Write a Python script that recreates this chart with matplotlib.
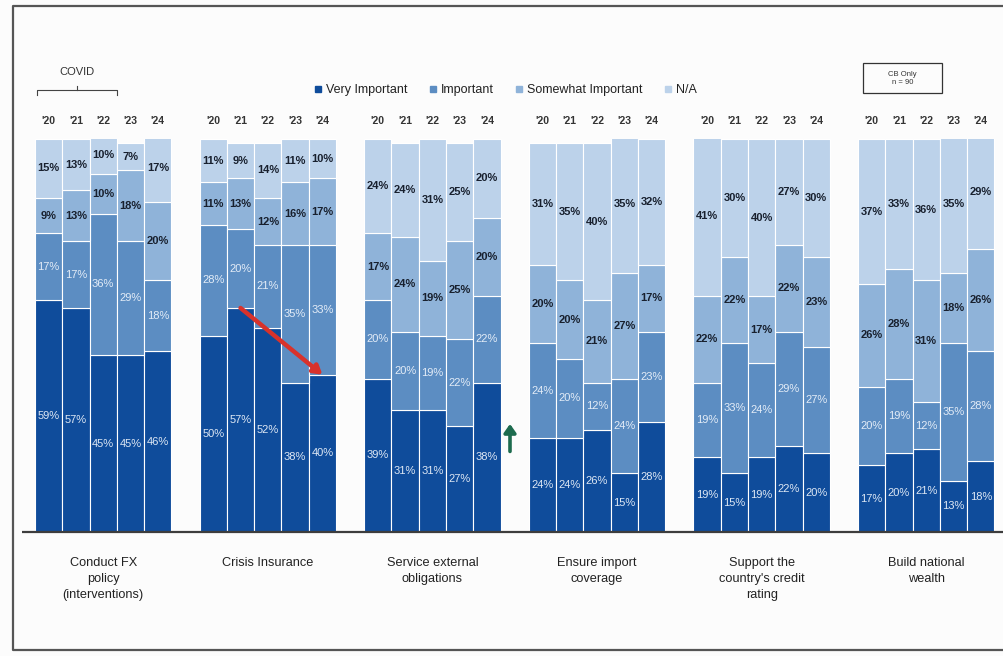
import matplotlib
matplotlib.use("Agg")
import matplotlib.pyplot as plt
from matplotlib.lines import Line2D
from matplotlib.patches import Rectangle
from matplotlib.transforms import blended_transform_factory

plt.rcParams['font.family'] = ['Liberation Sans', 'DejaVu Sans']

# ---- data -------------------------------------------------------------
years = ["'20", "'21", "'22", "'23", "'24"]
categories = ["Conduct FX\npolicy\n(interventions)", "Crisis Insurance",
              "Service external\nobligations", "Ensure import\ncoverage",
              "Support the\ncountry's credit\nrating", "Build national\nwealth"]
series_names = ["Very Important", "Important", "Somewhat Important", "N/A"]

very_important = [[59, 57, 45, 45, 46],
                  [50, 57, 52, 38, 40],
                  [39, 31, 31, 27, 38],
                  [24, 24, 26, 15, 28],
                  [19, 15, 19, 22, 20],
                  [17, 20, 21, 13, 18]]
important = [[17, 17, 36, 29, 18],
             [28, 20, 21, 35, 33],
             [20, 20, 19, 22, 22],
             [24, 20, 12, 24, 23],
             [19, 33, 24, 29, 27],
             [20, 19, 12, 35, 28]]
somewhat_important = [[9, 13, 10, 18, 20],
                      [11, 13, 12, 16, 17],
                      [17, 24, 19, 25, 20],
                      [20, 20, 21, 27, 17],
                      [22, 22, 17, 22, 23],
                      [26, 28, 31, 18, 26]]
not_applicable = [[15, 13, 10, 7, 17],
                  [11, 9, 14, 11, 10],
                  [24, 24, 31, 25, 20],
                  [31, 35, 40, 35, 32],
                  [41, 30, 40, 27, 30],
                  [37, 33, 36, 35, 29]]

# ---- style ------------------------------------------------------------
colors = ["#0f4c9b", "#5c8dc2", "#8fb3d9", "#bcd2ea"]
label_colors = ["#dde7f4", "#e3ecf7", "#18202e", "#18202e"]
label_weights = ["normal", "normal", "bold", "bold"]

W, H = 1004, 656
fig = plt.figure(figsize=(W / 100, H / 100), dpi=100)
fig.patch.set_facecolor("#fcfcfc")

base_px, top_px = 532, 139
ax = fig.add_axes([0, (H - base_px) / H, 1, (base_px - top_px) / H])
ax.set_xlim(0, W)
ax.set_ylim(0, 100)
ax.axis("off")
ax.patch.set_alpha(0)

def fy(py):
    """pixel row -> figure fraction"""
    return 1 - py / H

group_start, group_step, bar_step = 35, 164.6, 27.3
blend = blended_transform_factory(ax.transData, fig.transFigure)

all_series = [very_important, important, somewhat_important, not_applicable]
for g in range(len(categories)):
    xs = [group_start + group_step * g + bar_step * i for i in range(len(years))]
    bottoms = [0] * len(years)
    for s, vals in enumerate(all_series):
        v = vals[g]
        ax.bar(xs, v, width=bar_step, bottom=bottoms, align="edge",
               color=colors[s], edgecolor="white", linewidth=0.8)
        for i in range(len(years)):
            ax.text(xs[i] + bar_step / 2, bottoms[i] + v[i] / 2, f"{v[i]}%",
                    ha="center", va="center", fontsize=8,
                    color=label_colors[s], fontweight=label_weights[s])
        bottoms = [b + x for b, x in zip(bottoms, v)]
    for i, yr in enumerate(years):
        ax.text(xs[i] + bar_step / 2, fy(121), yr, transform=blend,
                ha="center", va="center", fontsize=7.5, color="#333333",
                fontweight="bold")
    cx = xs[0] + bar_step * len(years) / 2
    ax.text(cx, fy(557), categories[g], transform=blend, ha="center", va="top",
            fontsize=9.2, color="#222222", linespacing=1.45)

# baseline
ax.plot([22, W], [0, 0], color="#3d3d3d", lw=1.6, clip_on=False, solid_capstyle="butt")

# decline in crisis-insurance "Very Important" from '21 to '24
g = 1
x21 = group_start + group_step * g + bar_step * 1 + bar_step / 2
x24 = group_start + group_step * g + bar_step * 4 + bar_step / 2
ax.annotate("", xy=(x24, very_important[g][4]), xytext=(x21, very_important[g][1]),
            arrowprops=dict(arrowstyle="-|>,head_length=0.5,head_width=0.3",
                            color="#d8322b", lw=3.2, shrinkA=0, shrinkB=0))

# green up arrow between groups
ax.annotate("", xy=(510, 27.5), xytext=(510, 20.5),
            arrowprops=dict(arrowstyle="-|>,head_length=0.5,head_width=0.35",
                            color="#1d6b4e", lw=2.6, shrinkA=0, shrinkB=0))

# legend
handles = [Line2D([], [], marker="s", linestyle="none", markersize=4.5,
                  color=c) for c in colors]
fig.legend(handles, series_names, loc="center", bbox_to_anchor=(505 / W, fy(90)),
           ncol=4, frameon=False, fontsize=9, handletextpad=0.25,
           columnspacing=1.6, handlelength=0.8, labelcolor="#222222")

# COVID bracket over '20-'22
fig.text(77 / W, fy(72), "COVID", ha="center", va="center", fontsize=8,
         color="#333333")
bx = [37, 37, 117, 117]
by = [95, 90, 90, 95]
fig.add_artist(Line2D([x / W for x in bx], [fy(y) for y in by], color="#444444",
                      lw=0.8))
fig.add_artist(Line2D([77 / W, 77 / W], [fy(90), fy(86)], color="#444444", lw=0.8))

# CB only box
fig.add_artist(Rectangle((863 / W, fy(93)), 79 / W, 30 / H, fill=False,
                         edgecolor="#333333", lw=0.9))
fig.text(902.5 / W, fy(78), "CB Only\nn = 90", ha="center", va="center",
         fontsize=5.5, color="#333333", linespacing=1.2)

# outer frame
fig.add_artist(Line2D([1.0 + 0.01, 13 / W, 13 / W, 1.0 + 0.01],
                      [fy(6), fy(6), fy(650), fy(650)], color="#555555", lw=1.6))

fig.savefig("out.png", dpi=100, facecolor=fig.get_facecolor())
